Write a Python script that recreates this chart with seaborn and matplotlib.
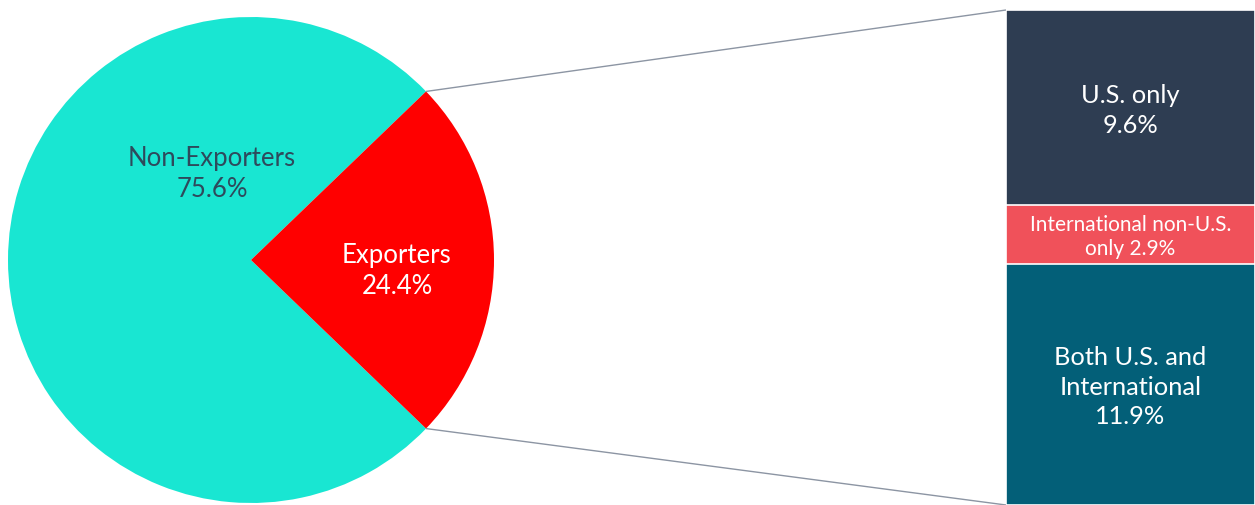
import matplotlib
matplotlib.use("Agg")
import matplotlib.pyplot as plt
import seaborn as sns
import pandas as pd
import numpy as np

# ---- data ----
pie_labels = ["Non-Exporters", "Exporters"]
pie_values = [75.6, 24.4]
pie_colors = ["#19E6D2", "#FF0000"]
pie_text_colors = ["#2E4A5C", "#FFFFFF"]

seg_labels = ["U.S. only", "International non-U.S.", "Both U.S. and\nInternational"]
seg_label_fmt = ["{}\n{}%", "{}\nonly {}%", "{}\n{}%"]
seg_values = [9.6, 2.9, 11.9]          # top to bottom
seg_colors = ["#2E3D52", "#F0515A", "#035F78"]
seg_fontsizes = [18.3, 15, 18.3]
seg_spacing = [1.34, 1.25, 1.34]

sns.set_theme(style="white")
plt.rcParams["font.family"] = ["Lato", "DejaVu Sans"]

W, H = 1255, 505
fig = plt.figure(figsize=(W / 100, H / 100), dpi=100)

# main axes in pixel-like data coordinates (y up)
ax = fig.add_axes([0, 0, 1, 1])
cx, cy, r = 251, H - 260, 243
wedges, _ = ax.pie(pie_values, colors=pie_colors, startangle=43.92,
                   counterclock=True, center=(cx, cy), radius=r,
                   frame=True, wedgeprops=dict(linewidth=0))
ax.set_xlim(0, W)
ax.set_ylim(0, H)
ax.set_aspect("equal")
ax.axis("off")

# pie labels
label_pos = [(212, 174), (397, 271)]
for lab, val, col, (lx, ly) in zip(pie_labels, pie_values, pie_text_colors, label_pos):
    ax.text(lx, H - ly, f"{lab}\n{val}%", ha="center", va="center",
            color=col, fontsize=18.5, linespacing=1.34, fontweight="normal",
            zorder=5)

# stacked bar axes
bx0, btop, bbot = 1006, 10, 505
bax = fig.add_axes([bx0 / W, 0, (W - bx0) / W, (bbot - btop) / H])
total = sum(seg_values)
bottoms = []
acc = 0
for v in seg_values[::-1]:
    bottoms.append(acc)
    acc += v
bottoms = bottoms[::-1]  # aligned with seg order (top to bottom)
cum_tops = [b + v for b, v in zip(bottoms, seg_values)]
for top_val, col in zip(cum_tops, seg_colors):
    df = pd.DataFrame({"g": ["Exporters"], "v": [top_val]})
    sns.barplot(data=df, x="g", y="v", color=col, width=1.0, ax=bax,
                saturation=1, edgecolor="white", linewidth=1.2)
bax.set_xlim(-0.5, 0.5)
bax.set_ylim(0, total)
bax.axis("off")
px_unit = total / (bbot - btop)
for lab, fmt, b, v, fs, ls in zip(seg_labels, seg_label_fmt, bottoms, seg_values,
                                  seg_fontsizes, seg_spacing):
    bax.text(0.0, b + v / 2 - 3 * px_unit, fmt.format(lab, v), ha="center",
             va="center", color="white", fontsize=fs, linespacing=ls,
             fontweight="normal", zorder=5)

# connector lines from exporters wedge edges to bar corners
w = wedges[1]
for ang, ty in [(w.theta2, H - btop), (w.theta1, H - bbot)]:
    px = cx + r * np.cos(np.deg2rad(ang))
    py = cy + r * np.sin(np.deg2rad(ang))
    ax.plot([px, bx0], [py, ty], color="#8C95A3", linewidth=1.0,
            solid_capstyle="butt")

fig.savefig("out.png", dpi=100)
